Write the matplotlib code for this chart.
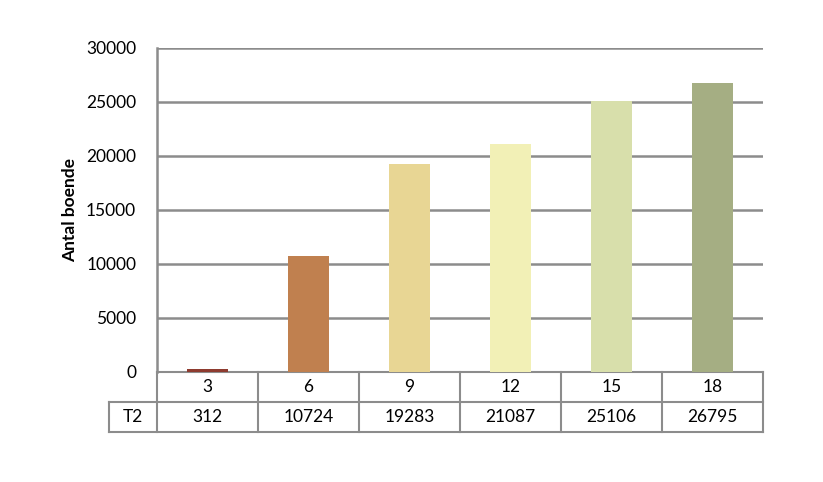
import numpy as np
import matplotlib.pyplot as plt
from matplotlib.transforms import blended_transform_factory

plt.rcParams['font.family'] = ['Lato', 'DejaVu Sans']

# data
kategorier = ['3', '6', '9', '12', '15', '18']
serie_namn = 'T2'
antal = [312, 10724, 19283, 21087, 25106, 26795]
farger = ['#8E3B2F', '#C0804F', '#E8D694', '#F2F0B6', '#D8DFAB', '#A5AE83']

grid_farg = '#8C8C8C'
fs = 12.5

fig = plt.figure(figsize=(8.23, 4.82), dpi=100)
ax = fig.add_axes([157 / 823, 1 - 372 / 482, 606 / 823, 324 / 482])

x = np.arange(len(kategorier))
ax.bar(x, antal, width=0.4, color=farger, zorder=3)

ax.set_xlim(-0.5, len(kategorier) - 0.5)
ax.set_ylim(0, 30000)
ax.set_yticks(np.arange(0, 30001, 5000))
ax.yaxis.grid(True, color=grid_farg, linewidth=1.8, zorder=0)
ax.set_axisbelow(True)
ax.tick_params(axis='y', length=0, labelsize=fs, pad=15)
ax.set_xticks([])
for s in ['top', 'right', 'bottom']:
    ax.spines[s].set_visible(False)
ax.spines['left'].set_color(grid_farg)
ax.spines['left'].set_linewidth(1.8)
ax.set_ylabel('Antal boende', fontsize=fs, fontweight='bold', labelpad=6)

# datatabell under diagrammet
tr = blended_transform_factory(ax.transData, ax.transAxes)
rad = 30 / 324
vanster = -0.5 - 48 / 101
n = len(kategorier)
lw = 1.5
kw = dict(color=grid_farg, linewidth=lw, transform=tr, clip_on=False)
ax.plot([-0.5, n - 0.5], [0, 0], **kw)
ax.plot([vanster, n - 0.5], [-rad, -rad], **kw)
ax.plot([vanster, n - 0.5], [-2 * rad, -2 * rad], **kw)
for i in range(n + 1):
    ax.plot([i - 0.5, i - 0.5], [0, -2 * rad], **kw)
ax.plot([vanster, vanster], [-rad, -2 * rad], **kw)

for i, (k, v) in enumerate(zip(kategorier, antal)):
    ax.text(i, -rad / 2, k, transform=tr, ha='center', va='center', fontsize=fs)
    ax.text(i, -1.5 * rad, str(v), transform=tr, ha='center', va='center', fontsize=fs)
ax.text((vanster - 0.5) / 2, -1.5 * rad, serie_namn, transform=tr,
        ha='center', va='center', fontsize=fs)

fig.savefig('out.png', dpi=100)
